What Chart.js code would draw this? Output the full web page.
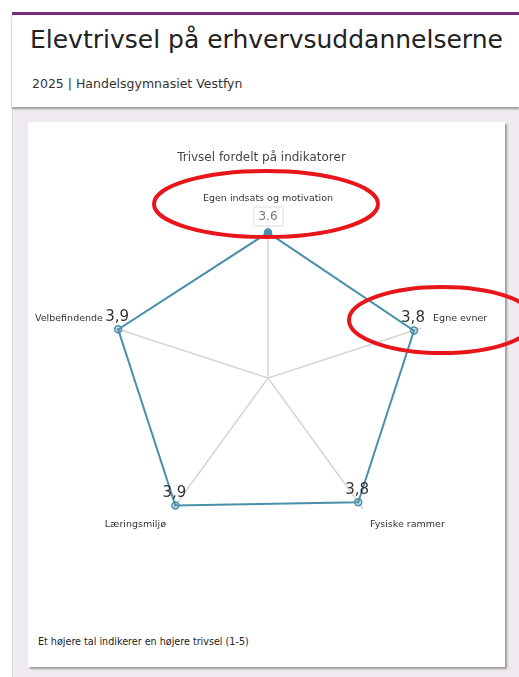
<!DOCTYPE html>
<html>
<head>
<meta charset="utf-8">
<script src="https://cdn.jsdelivr.net/npm/chart.js@4.4.1/dist/chart.umd.min.js"></script>
<style>
    body { margin: 0; background: #fff; font-family: 'DejaVu Sans', Verdana, sans-serif; }
    #page { position: absolute; left: 12px; top: 12px; width: 507px; height: 665px; background: #efeaf1; border-left: 1px solid #ddd; }
    #topBar { position: absolute; left: 12px; top: 12px; width: 507px; height: 3px; background: #7a2c7e; }
    #header { position: absolute; left: 12px; top: 15px; width: 507px; height: 92px; background: #fff; box-shadow: 0 2px 2px #999; }
    #header h1 { position: absolute; left: 18px; top: 10px; margin: 0; font-weight: normal; font-size: 25px; color: #222; white-space: nowrap; }
    #header p { position: absolute; left: 20px; top: 61px; margin: 0; font-size: 12.5px; color: #333; }
    #card { position: absolute; left: 28px; top: 122px; width: 477px; height: 545px; background: #fff; box-shadow: 2px 2px 2px #999; }
    #card canvas { position: absolute; left: 0; top: 0; }
    #note { position: absolute; left: 10px; top: 514px; font-size: 9.6px; color: #222; }
    #marks { position: absolute; left: 0; top: 0; }
</style>
</head>
<body>
<div id="page"></div>
<div id="topBar"></div>
<div id="header">
    <h1>Elevtrivsel på erhvervsuddannelserne</h1>
    <p>2025 | Handelsgymnasiet Vestfyn</p>
</div>
<div id="card">
    <canvas id="radar" width="477" height="500"></canvas>
    <div id="note">Et højere tal indikerer en højere trivsel (1-5)</div>
</div>
<svg id="marks" width="519" height="677">
    <ellipse cx="266" cy="204" rx="112" ry="33" fill="none" stroke="#e8151b" stroke-width="4"/>
    <ellipse cx="442" cy="320" rx="93" ry="33" fill="none" stroke="#e8151b" stroke-width="4"/>
</svg>
<script>
// Indikatorer og gennemsnit
const indikatorer = ['Egen indsats og motivation', 'Egne evner', 'Fysiske rammer', 'Læringsmiljø', 'Velbefindende'];
const gennemsnit = [3.6, 3.8, 3.8, 3.9, 3.9];

const lineColor = 'rgba(74, 144, 170, 1)';

// Tegner værdierne ved punkterne
const valueLabels = {
    id: 'valueLabels',
    afterDatasetsDraw(chart) {
        const c = chart.ctx;
        const meta = chart.getDatasetMeta(0);
        meta.data.forEach((pt, i) => {
            const v = gennemsnit[i];
            c.save();
            if (i === 0) {
                // tooltip-lignende boks
                const txt = v.toFixed(1);
                c.font = '12px "DejaVu Sans"';
                const w = c.measureText(txt).width + 10;
                const h = 19;
                const x = pt.x - w / 2, y = pt.y - 26;
                c.fillStyle = '#fff';
                c.strokeStyle = '#ddd';
                c.lineWidth = 1;
                c.fillRect(x, y, w, h);
                c.strokeRect(x + 0.5, y + 0.5, w, h);
                c.fillStyle = '#777';
                c.textAlign = 'center';
                c.textBaseline = 'middle';
                c.fillText(txt, pt.x, y + h / 2 + 1);
            } else {
                c.font = '15px "DejaVu Sans"';
                c.fillStyle = '#333';
                c.textAlign = 'center';
                c.textBaseline = 'bottom';
                c.fillText(v.toFixed(1).replace('.', ','), pt.x - 1, pt.y - 5);
            }
            c.restore();
        });
    }
};

const ctx = document.getElementById('radar').getContext('2d');
const chart = new Chart(ctx, {
    type: 'radar',
    data: {
        labels: indikatorer,
        datasets: [{
            label: 'Gennemsnit',
            data: gennemsnit,
            borderColor: lineColor,
            borderWidth: 2,
            fill: false,
            pointRadius: 3.5,
            pointBorderWidth: 1.5,
            pointBorderColor: lineColor,
            pointBackgroundColor: [lineColor, 'rgba(74,144,170,0.25)', 'rgba(74,144,170,0.25)', 'rgba(74,144,170,0.25)', 'rgba(74,144,170,0.25)']
        }]
    },
    options: {
        responsive: false,
        animation: false,
        layout: { padding: { left: 0, right: 10, top: 0, bottom: 53 } },
        plugins: {
            legend: { display: false },
            tooltip: { enabled: false },
            title: {
                display: true,
                text: 'Trivsel fordelt på indikatorer',
                color: '#444',
                font: { family: 'DejaVu Sans', size: 12, weight: 'normal' },
                padding: { top: 29, bottom: 0 }
            }
        },
        scales: {
            r: {
                min: 0,
                max: 4,
                ticks: { display: false },
                grid: { display: false },
                angleLines: { color: '#d6d6d6', lineWidth: 1.5 },
                pointLabels: {
                    color: '#333',
                    padding: 12,
                    font: { family: 'DejaVu Sans', size: 9.5 }
                }
            }
        }
    },
    plugins: [valueLabels]
});
</script>
</body>
</html>
